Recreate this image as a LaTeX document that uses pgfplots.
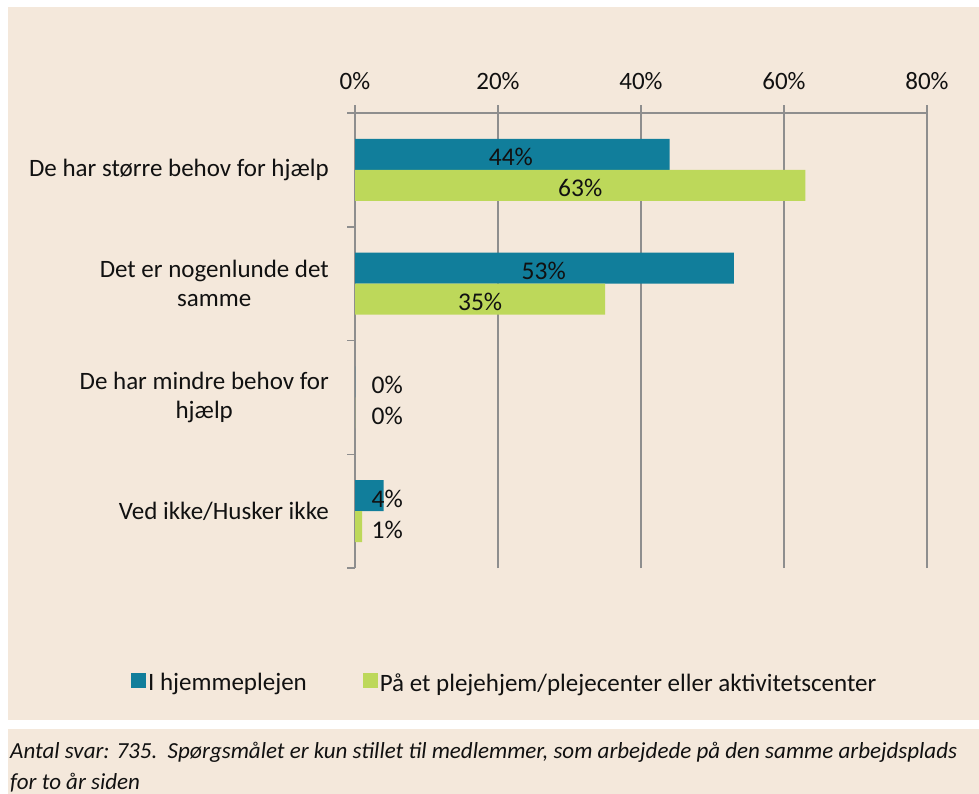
\documentclass[border=0pt]{standalone}
\usepackage{fontspec}
\setmainfont{Carlito}
\usepackage{pgfplots}
\pgfplotsset{compat=1.18}
\definecolor{bg}{HTML}{F4E8DB}
\definecolor{cblue}{HTML}{117E9B}
\definecolor{cgreen}{HTML}{BDD85A}
\definecolor{axgray}{HTML}{8E8E8E}
\definecolor{txt}{HTML}{111111}
\newcommand{\mf}{\fontsize{25bp}{29bp}\selectfont}
\begin{document}
\mf
\begin{tikzpicture}
\fill[white] (0,0) rectangle (979bp,-794bp);
\fill[bg] (8bp,-7bp) rectangle (979bp,-720bp);
\fill[bg] (8bp,-729bp) rectangle (979bp,-794bp);
\node[anchor=west, font=\fontsize{23bp}{31bp}\selectfont\itshape, text=txt, align=left, inner sep=0pt] at (10bp,-767.5bp) {Antal svar: 735.\ \ Spørgsmålet er kun stillet til medlemmer, som arbejdede på den samme arbejdsplads\\for to år siden};
\begin{axis}[
  at={(355bp,-568bp)}, anchor=south west,
  scale only axis, width=572bp, height=455bp,
  xmin=0, xmax=80, ymin=-0.5, ymax=3.5,
  xbar, bar width=31bp,
  axis x line*=top, axis y line*=left,
  axis line style={draw=axgray, line width=1.5bp, -},
  xtick={0,20,40,60,80}, xticklabels={0\%,20\%,40\%,60\%,80\%},
  xmajorgrids, grid style={draw=axgray, line width=1.5bp},
  tick align=outside, major tick length=8bp, minor tick length=8bp,
  x tick style={draw=axgray, line width=1.5bp},
  major y tick style={draw=none},
  minor y tick style={draw=axgray, line width=1.5bp},
  ytick={0,1,2,3},
  minor ytick={-0.5,0.5,1.5,2.5,3.5},
  yticklabels={Ved ikke/Husker ikke, {De har mindre behov for\\hjælp}, {Det er nogenlunde det\\samme}, De har større behov for hjælp},
  yticklabel style={align=center, text=txt, font=\mf, inner sep=0pt, xshift=-18bp},
  xticklabel style={text=txt, font=\mf, yshift=7bp},
  /pgf/number format/assume math mode=true,
  legend columns=2,
  legend style={at={(-0.397,-0.255)}, anchor=west, draw=none, fill=none,
    font=\mf, text=txt,
    /tikz/every even column/.append style={column sep=54bp}},
  legend image code/.code={\fill[#1] (0bp,-4bp) rectangle (15bp,11bp);},
]
\addplot[fill=cblue, draw=none, bar shift=15.5bp] coordinates {(44,3) (53,2) (0,1) (4,0)};
\addplot[fill=cgreen, draw=none, bar shift=-15.5bp] coordinates {(63,3) (35,2) (0,1) (1,0)};
\legend{I hjemmeplejen, På et plejehjem/plejecenter eller aktivitetscenter}
\addplot[forget plot, draw=none, fill=none, bar shift=15.5bp, point meta=explicit,
  nodes near coords={\pgfmathprintnumber{\pgfplotspointmeta}\%},
  every node near coord/.append style={anchor=center, yshift=-3bp, text=txt, font=\fontsize{25.5bp}{29bp}\selectfont}]
  coordinates {(21.8,3) [44] (26.4,2) [53] (4.5,1) [0] (4.5,0) [4]};
\addplot[forget plot, draw=none, fill=none, bar shift=-15.5bp, point meta=explicit,
  nodes near coords={\pgfmathprintnumber{\pgfplotspointmeta}\%},
  every node near coord/.append style={anchor=center, yshift=-3bp, text=txt, font=\fontsize{25.5bp}{29bp}\selectfont}]
  coordinates {(31.5,3) [63] (17.5,2) [35] (4.5,1) [0] (4.5,0) [1]};
\end{axis}
\end{tikzpicture}
\end{document}
